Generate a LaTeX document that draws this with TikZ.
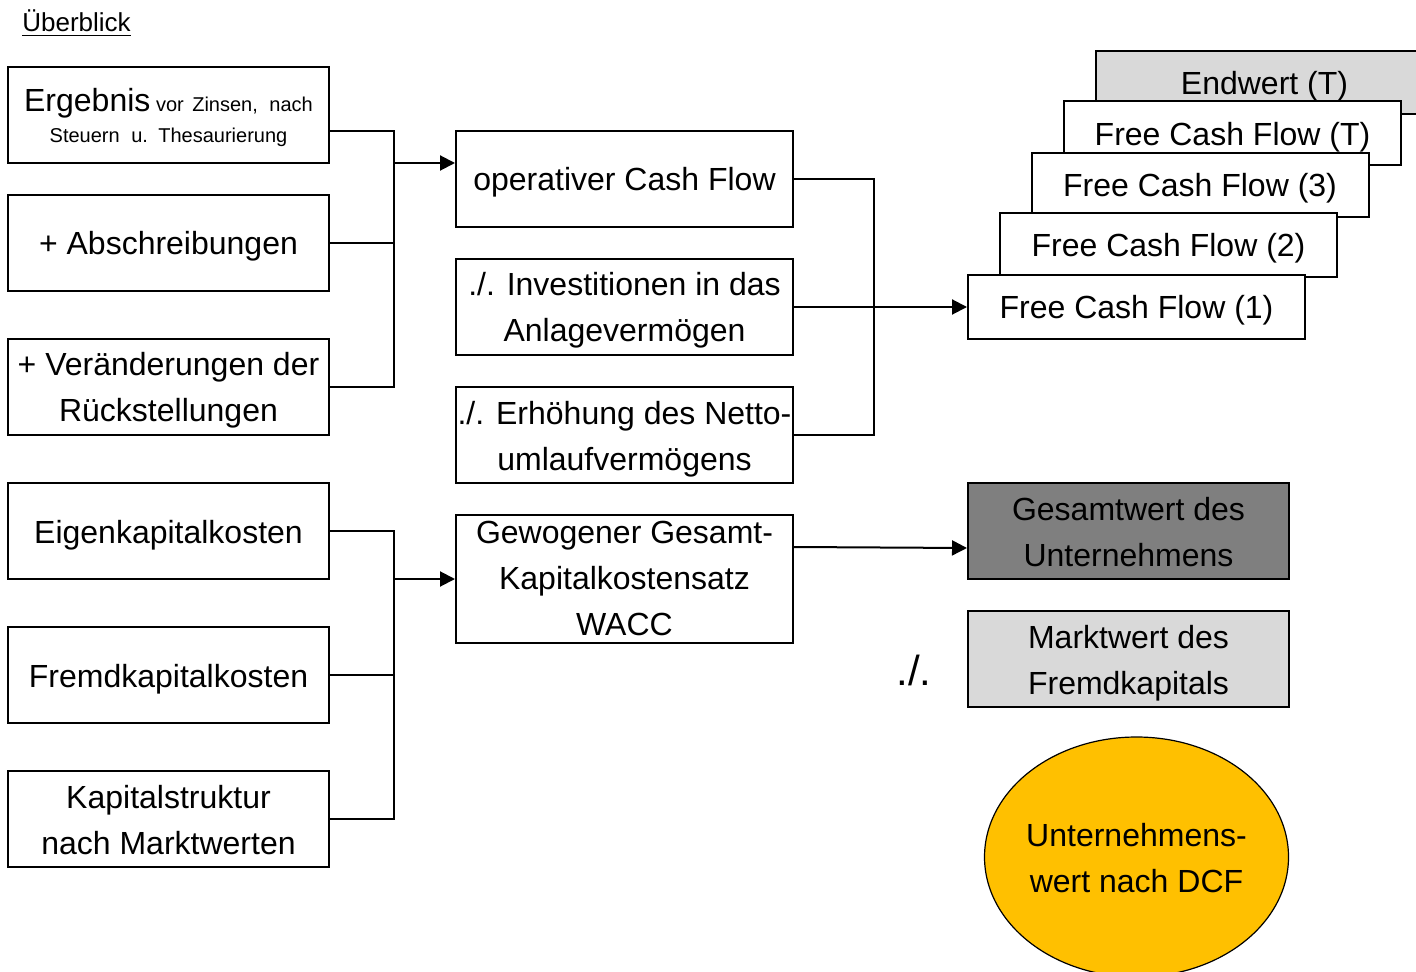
\documentclass[tikz,border=0pt]{standalone}
\usepackage{fontspec}
\setmainfont{Liberation Sans}
\usetikzlibrary{arrows.meta,calc,shapes.geometric}
\definecolor{lgray}{HTML}{D9D9D9}
\definecolor{dgray}{HTML}{7F7F7F}
\definecolor{gold}{HTML}{FFC000}
\newcommand\tS{\rule{0pt}{16pt}}
\newcommand\bS{\rule[-4pt]{0pt}{0pt}}
\begin{document}
\begin{tikzpicture}[x=0.5pt,y=-0.5pt,
  lbox/.style={draw,line width=1pt,fill=white,minimum width=160.5pt,minimum height=48pt,inner sep=0pt,align=center,font=\fontsize{16}{23}\selectfont},
  mbox/.style={lbox,minimum width=168.5pt},
  cfbox/.style={mbox,minimum height=32pt},
  conn/.style={line width=1pt},
  arr/.style={conn,-{Triangle[length=7.5pt,width=7.5pt]}}]
\useasboundingbox (0,0) rectangle (1416,972);
\fill[white] (0,0) rectangle (1416,972);

\node[anchor=base west,font=\fontsize{13}{15}\selectfont,inner sep=0pt] (title) at (22,32) {\underline{Überblick}};

% left column
\node[lbox,font=\fontsize{10}{15.5}\selectfont] (b1) at (168.5,115) {\tS{\fontsize{16}{15.5}\selectfont Ergebnis} vor\hspace{1.5pt} Zinsen,\hspace{3pt} nach\\Steuern\hspace{3pt} u.\hspace{1.5pt} Thesaurierung\bS};
\node[lbox] (b2) at (168.5,243) {\tS+ Abschreibungen\bS};
\node[lbox] (b3) at (168.5,387) {\tS+ Veränderungen der\\Rückstellungen\bS};
\node[lbox] (ek) at (168.5,531) {\tS Eigenkapitalkosten\bS};
\node[lbox] (fk) at (168.5,675) {\tS Fremdkapitalkosten\bS};
\node[lbox] (ks) at (168.5,819) {\tS Kapitalstruktur\\nach Marktwerten\bS};

% middle column
\node[mbox] (opcf) at (624.5,179) {\tS operativer Cash Flow\bS};
\node[mbox] (inv) at (624.5,307) {\tS./. Investitionen in das\\Anlagevermögen\bS};
\node[mbox] (erh) at (624.5,435) {\tS./. Erhöhung des Netto-\\umlaufvermögens\bS};
\node[mbox,minimum height=64pt,inner ysep=-5pt] (wacc) at (624.5,579) {\tS Gewogener Gesamt-\\Kapitalkostensatz\\WACC\rule[-6pt]{0pt}{0pt}};

% stacked cash flows
\node[cfbox,fill=lgray,minimum height=31.5pt] (endw) at (1264.5,82.5) {\tS Endwert (T)\bS};
\node[cfbox] (fcft) at (1232.5,133.5) {\tS Free Cash Flow (T)\bS};
\node[cfbox] (fcf3) at (1200,185) {\tS Free Cash Flow (3)\bS};
\node[cfbox] (fcf2) at (1168.5,245) {\tS Free Cash Flow (2)\bS};
\node[cfbox] (fcf1) at (1136.5,307) {\tS Free Cash Flow (1)\bS};

% result column
\node[lbox,fill=dgray] (gw) at (1128.5,531) {\tS Gesamtwert des\\Unternehmens\bS};
\node[lbox,fill=lgray] (mw) at (1128.5,659) {\tS Marktwert des\\Fremdkapitals\bS};
\node[font=\fontsize{21}{21}\selectfont,inner sep=0pt] (minus) at (914,670) {./.};
\node[ellipse,draw,line width=0.6pt,fill=gold,minimum width=152pt,minimum height=120pt,inner xsep=-6pt,inner ysep=0pt,align=center,font=\fontsize{16}{23}\selectfont] (dcf) at (1136.5,857) {\tS Unternehmens-\\wert nach DCF\bS};

% connectors
\draw[conn] ($(b1.east)+(0,16)$) -- ++(64,0) |- (b3.east);
\draw[conn] (b2.east) -- ++(64,0);
\coordinate (j1) at (393,163);
\draw[arr] (j1) -- (j1 -| opcf.west);

\draw[conn] (opcf.east) -- ++(80,0) |- (erh.east);
\draw[arr] (inv.east) -- (fcf1.west);

\draw[conn] (ek.east) -- ++(64,0) |- (ks.east);
\draw[conn] (fk.east) -- ++(64,0);
\coordinate (j2) at (393,579);
\draw[arr] (j2) -- (j2 -| wacc.west);

\draw[arr] ($(wacc.east)+(0,-32)$) -- ($(gw.west)+(0,17)$);
\end{tikzpicture}
\end{document}
